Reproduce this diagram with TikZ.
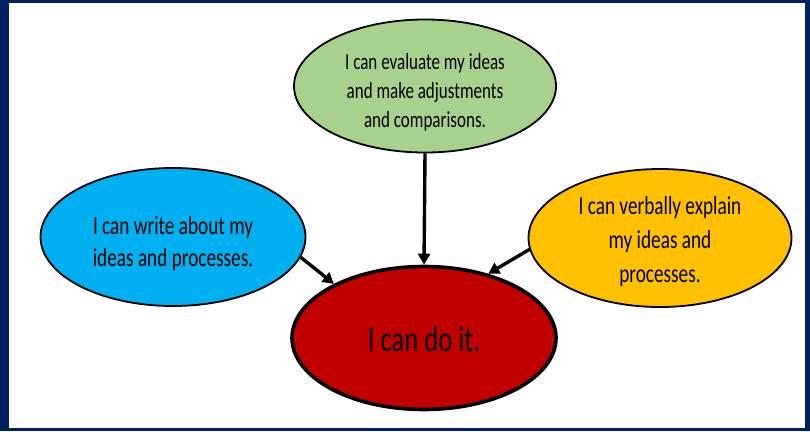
\documentclass[tikz,border=0pt]{standalone}
\usepackage{fontspec}
\setmainfont[FakeStretch=0.74]{Carlito}
\usetikzlibrary{positioning,arrows.meta,shapes.geometric}
\definecolor{framenavy}{HTML}{002060}
\definecolor{doitred}{HTML}{C00000}
\definecolor{evalgreen}{HTML}{A9D18E}
\definecolor{writeblue}{HTML}{00B0F0}
\definecolor{explainorange}{HTML}{FFC000}
\tikzset{
  bubble/.style={ellipse,draw=black,line width=1.8pt,inner sep=0pt},
  goal/.style={bubble,line width=3.6pt},
  blurb/.style={align=center,inner sep=0pt,font=\fontsize{26}{32}\selectfont},
  link/.style={-{Triangle[length=11pt,width=12pt]},line width=3.4pt},
}

\begin{document}
\begin{tikzpicture}[x=1pt,y=-1pt]
  % navy frame round a white card
  \fill[framenavy] (0,0) rectangle (810,431);
  \fill[white] (9,3) rectangle (805,428);
  \useasboundingbox (0,0) rectangle (810,431);
  % centre goal
  \node[goal,fill=doitred,minimum width=264pt,minimum height=143pt] (doit) at (424,338) {};
  \node[blurb,font=\fontsize{36}{44}\selectfont] (doit-text) at ([yshift=-1pt]doit.center) {I can do it.};
  % the three ways there
  \node[bubble,fill=evalgreen,minimum width=262pt,minimum height=133pt] (evaluate) at (425,86) {};
  \node[blurb,font=\fontsize{23}{29}\selectfont] (evaluate-text) at ([yshift=-6pt]evaluate.center)
    {I can evaluate my ideas\\and make adjustments\\and comparisons.};
  \node[bubble,fill=writeblue,minimum width=265pt,minimum height=138pt] (write) at (173,237) {};
  \node[blurb] (write-text) at ([yshift=-7pt]write.center)
    {I can write about my\\ideas and processes.};
  \node[bubble,fill=explainorange,minimum width=263pt,minimum height=138pt] (explain) at (660,238) {};
  \node[blurb,font=\fontsize{26}{34}\selectfont] (explain-text) at ([yshift=-4pt]explain.center)
    {I can verbally explain\\my ideas and\\processes.};
  % arrows into the goal
  \draw[link] (evaluate.south) -- (doit.north);
  \draw[link] (write.-9) -- (doit.149);
  \draw[link] (explain.185) -- (doit.45);
\end{tikzpicture}
\end{document}
